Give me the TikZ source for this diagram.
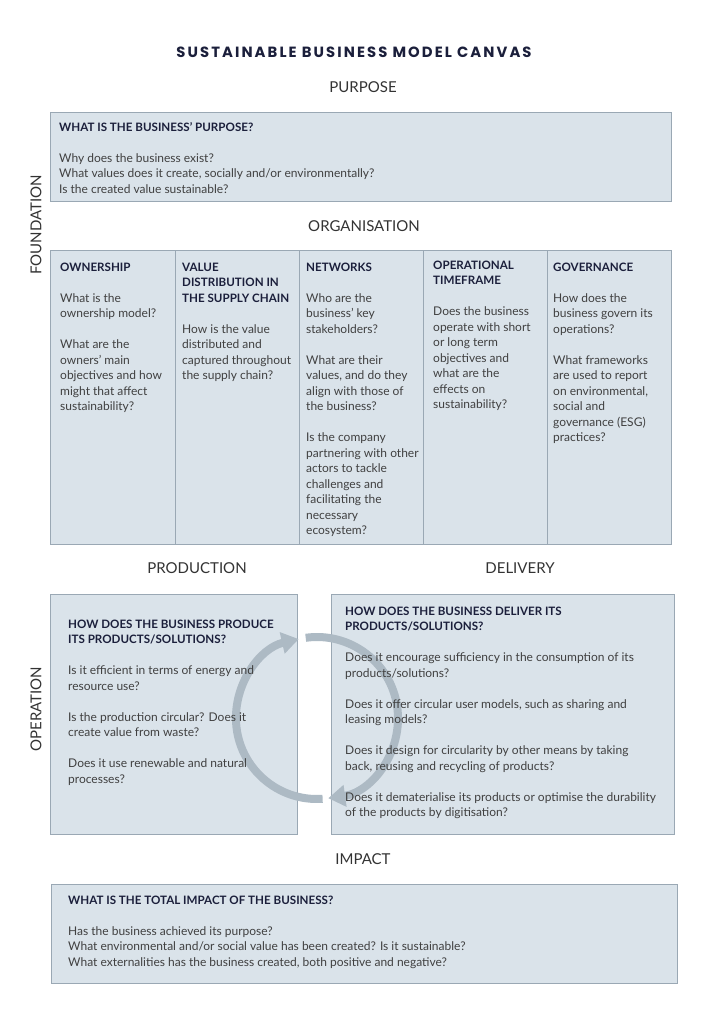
\documentclass[tikz,border=0pt]{standalone}
\usepackage{fontspec}
\setmainfont{Lato}
\newfontfamily\titlefont{Poppins}[LetterSpace=14]
\usetikzlibrary{arrows.meta}
\definecolor{boxfill}{HTML}{DAE3EA}
\definecolor{boxline}{HTML}{9AA8B4}
\definecolor{arrowc}{HTML}{ADBAC4}
\definecolor{navy}{HTML}{1B1F3B}
\definecolor{bodyc}{HTML}{404040}
\definecolor{labelc}{HTML}{333333}
\newcommand\hd[1]{{\fontsize{11.6}{15.5}\selectfont\bfseries\color{navy}#1}}
\begin{document}
\begin{tikzpicture}[x=1pt,y=-1pt,
  panel/.style={draw=boxline, line width=1.2pt, fill=boxfill, anchor=north west, inner sep=0pt},
  txt/.style={anchor=north west, inner sep=0pt, align=left, text=bodyc, font=\fontsize{12}{15.5}\selectfont},
  sect/.style={text=labelc, font=\fontsize{15}{18}\selectfont, inner sep=0pt},
  cyclearrow/.style={draw=arrowc, line width=8pt, -{Triangle[length=17pt,width=21pt]}}
]
\useasboundingbox[fill=white] (0,0) rectangle (724,1024);

% title and section labels
\node[text=navy, font=\titlefont\bfseries\fontsize{14.8}{16}\selectfont, inner sep=0pt] (title) at (354,52) {SUSTAINABLE BUSINESS MODEL CANVAS};
\node[sect] (lpurpose) at (363,87) {PURPOSE};
\node[sect] (lorg) at (364,226) {ORGANISATION};
\node[sect] (lprod) at (197,568) {PRODUCTION};
\node[sect] (ldeliv) at (520,568) {DELIVERY};
\node[sect] (limpact) at (363,859) {IMPACT};
\node[sect, rotate=90] (lfound) at (36,225) {FOUNDATION};
\node[sect, rotate=90] (loper) at (36,709) {OPERATION};

% panels
\node[panel, minimum width=621pt, minimum height=89pt] (ppurpose) at (50,112) {};
\node[panel, minimum width=125pt, minimum height=294pt] (pown) at (50,250) {};
\node[panel, minimum width=124pt, minimum height=294pt] (pval) at (175,250) {};
\node[panel, minimum width=124pt, minimum height=294pt] (pnet) at (299,250) {};
\node[panel, minimum width=124pt, minimum height=294pt] (pop) at (423,250) {};
\node[panel, minimum width=124pt, minimum height=294pt] (pgov) at (547,250) {};
\node[panel, minimum width=247pt, minimum height=240pt] (pprod) at (50,594) {};
\node[panel, minimum width=343pt, minimum height=240pt] (pdeliv) at (331,594) {};
\node[panel, minimum width=626pt, minimum height=99pt] (pimpact) at (51,884) {};

% circular arrow
\coordinate (cyc) at (317,718);
\coordinate (abot) at (322.6,798.8);
\coordinate (atop) at (305.7,637.8);
\draw[cyclearrow] (abot) arc[start angle=86, end angle=257, radius=81];
\draw[cyclearrow] (atop) arc[start angle=-98, end angle=82, radius=81];

% texts
\node[txt] (tpurpose) at (59,120) {\strut\hd{WHAT IS THE BUSINESS' PURPOSE?}\\\strut\\
Why does the business exist?\\
What values does it create, socially and/or environmentally?\\
Is the created value sustainable?};

\node[txt] (town) at (60,260) {\strut\hd{OWNERSHIP}\\\strut\\
What is the\\ownership model?\\\strut\\What are the\\owners' main\\objectives and how\\might that affect\\sustainability?};

\node[txt] (tval) at (182,260) {\strut\hd{VALUE}\\\hd{DISTRIBUTION IN}\\\hd{THE SUPPLY CHAIN}\\\strut\\
How is the value\\distributed and\\captured throughout\\the supply chain?};

\node[txt] (tnet) at (306,260) {\strut\hd{NETWORKS}\\\strut\\
Who are the\\business' key\\stakeholders?\\\strut\\What are their\\values, and do they\\align with those of\\the business?\\\strut\\
Is the company\\partnering with other\\actors to tackle\\challenges and\\facilitating the\\necessary\\ecosystem?};

\node[txt] (top) at (433,258) {\strut\hd{OPERATIONAL}\\\hd{TIMEFRAME}\\\strut\\
Does the business\\operate with short\\or long term\\objectives and\\what are the\\effects on\\sustainability?};

\node[txt] (tgov) at (553,260) {\strut\hd{GOVERNANCE}\\\strut\\
How does the\\business govern its\\operations?\\\strut\\What frameworks\\are used to report\\on environmental,\\social and\\governance (ESG)\\practices?};

\node[txt] (tprod) at (68,617) {\strut\hd{HOW DOES THE BUSINESS PRODUCE}\\\hd{ITS PRODUCTS/SOLUTIONS?}\\\strut\\
Is it efficient in terms of energy and\\resource use?\\\strut\\
Is the production circular? Does it\\create value from waste?\\\strut\\
Does it use renewable and natural\\processes?};

\node[txt] (tdeliv) at (345,604) {\strut\hd{HOW DOES THE BUSINESS DELIVER ITS}\\\hd{PRODUCTS/SOLUTIONS?}\\\strut\\
Does it encourage sufficiency in the consumption of its\\products/solutions?\\\strut\\
Does it offer circular user models, such as sharing and\\leasing models?\\\strut\\
Does it design for circularity by other means by taking\\back, reusing and recycling of products?\\\strut\\
Does it dematerialise its products or optimise the durability\\of the products by digitisation?};

\node[txt] (timpact) at (68,893) {\strut\hd{WHAT IS THE TOTAL IMPACT OF THE BUSINESS?}\\\strut\\
Has the business achieved its purpose?\\
What environmental and/or social value has been created? Is it sustainable?\\
What externalities has the business created, both positive and negative?};
\end{tikzpicture}
\end{document}
